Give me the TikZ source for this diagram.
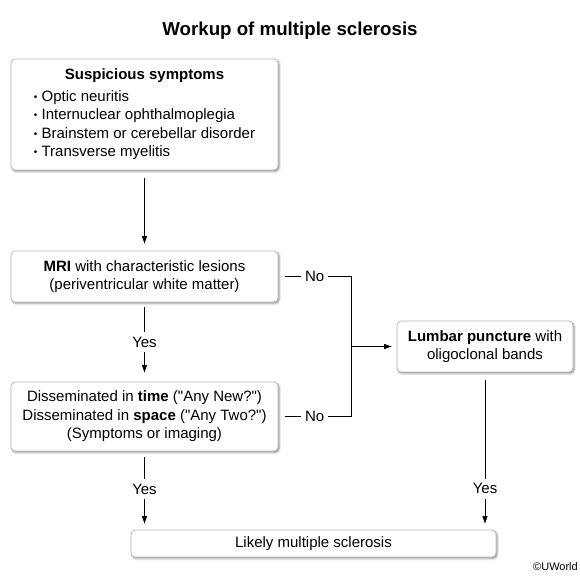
\documentclass[tikz,border=0pt]{standalone}
\usepackage{fontspec}
\setmainfont{Liberation Sans}
\usetikzlibrary{arrows.meta,shadows.blur}
\newcommand{\symbul}{\raisebox{1.2pt}{\fontsize{10}{10}\selectfont\textbullet}\ }
\begin{document}
\begin{tikzpicture}[x=1pt,y=-1pt,
		box/.style={draw=black!28, line width=0.8pt, fill=white, rounded corners=4pt,
			blur shadow={shadow xshift=1.2pt, shadow yshift=-1.5pt, shadow blur radius=2pt, shadow opacity=45},
			align=center, inner sep=0pt, font=\fontsize{15}{18.5}\selectfont},
		lbl/.style={fill=white, inner xsep=4pt, inner ysep=5pt, font=\fontsize{15}{17}\selectfont},
		arr/.style={line width=0.8pt, -{Triangle[length=7.5pt,width=5pt]}},
		ln/.style={line width=0.8pt}]
			\useasboundingbox (0,0) rectangle (580,578);
			\node (title) at (290,31) {\fontsize{18.7}{22}\selectfont\bfseries Workup of multiple sclerosis};
			% boxes
			\node[box, minimum width=267pt, minimum height=111pt] (sym) at (144.5,114.5) {%
				\begin{tabular}{@{}l@{}}
				\multicolumn{1}{c}{\bfseries Suspicious symptoms}\\[3.5pt]
				\symbul Optic neuritis\\
				\symbul Internuclear ophthalmoplegia\\
				\symbul Brainstem or cerebellar disorder\\
				\symbul Transverse myelitis
				\end{tabular}};
			\node[box, minimum width=267pt, minimum height=51pt] (mri) at (144.5,276.5)
				{\textbf{MRI} with characteristic lesions\\(periventricular white matter)};
			\node[box, minimum width=267pt, minimum height=69pt] (dis) at (144.5,416.5)
				{Disseminated in \textbf{time} (\textquotedbl Any New?\textquotedbl)\\Disseminated in \textbf{space} (\textquotedbl Any Two?\textquotedbl)\\(Symptoms or imaging)};
			\node[box, minimum width=176pt, minimum height=51pt] (lp) at (485,346.5)
				{\textbf{Lumbar puncture} with\\oligoclonal bands};
			\node[box, minimum width=365pt, minimum height=27pt] (ms) at (313.5,543.5)
				{Likely multiple sclerosis};
			\node[anchor=east, inner sep=0pt] (copy) at (578,567) {\fontsize{11}{12}\selectfont\textcopyright UWorld};
			% connectors
			\coordinate (jt) at (351,276.5);
			\coordinate (jb) at (351,416.5);
			\coordinate (jm) at (jt |- lp.west);
			\draw[arr, shorten <=8pt, shorten >=7pt] (sym) -- (mri);
			\draw[arr, shorten <=5pt, shorten >=9pt] (mri) -- node[lbl] {Yes} (dis);
			\draw[arr, shorten <=6pt, shorten >=6pt] (dis) -- node[lbl, pos=.48] {Yes} (dis.south |- ms.north);
			\draw[arr, shorten <=8pt, shorten >=6pt] (lp) -- node[lbl, pos=.74] {Yes} (lp.south |- ms.north);
			\draw[ln, shorten <=7pt] (mri.east) -- node[lbl] {No} (jt) -- (jb);
			\draw[ln, shorten <=7pt] (dis.east) -- node[lbl] {No} (jb);
			\draw[arr, shorten >=5pt] (jm) -- (lp.west);
		\end{tikzpicture}
\end{document}
